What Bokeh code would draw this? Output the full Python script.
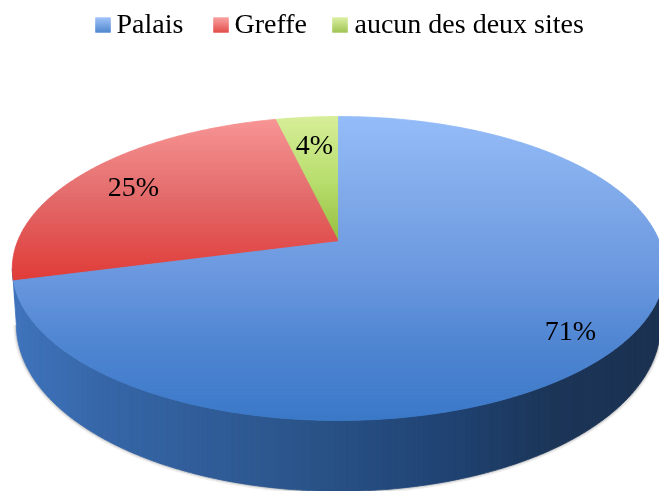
import numpy as np
from bokeh.plotting import figure
from bokeh.models import Range1d
from bokeh.core.properties import value
from bokeh.embed import file_html
from bokeh.resources import INLINE

categories = ["Palais", "Greffe", "aucun des deux sites"]
shares = [70.9, 25.4, 3.7]
labels = ["71%", "25%", "4%"]

FONT = "Liberation Serif"
W, H = 659, 491
CX, CY = 338.0, 241.0      # apex on screen
RX, BY, K = 321.0, 147.2, 0.1776   # perspective circle
RX2, BY2, CY2 = 317.0, 161.0, 295.0  # lower rim of the wall

# gradient stops: (screen y, rgb)
blue_stops = [(116, (148, 188, 249)), (200, (126, 168, 232)), (280, (104, 150, 222)),
              (340, (80, 134, 210)), (420, (58, 120, 200))]
red_stops = [(116, (248, 150, 150)), (200, (226, 104, 104)), (285, (224, 56, 52))]
green_stops = [(116, (214, 238, 152)), (180, (184, 222, 110)), (242, (148, 190, 62))]
wall_stops = [(12, (62, 116, 188)), (100, (54, 102, 168)), (300, (42, 84, 138)),
              (450, (31, 66, 114)), (550, (27, 53, 88)), (659, (26, 48, 80))]
slice_stops = [blue_stops, red_stops, green_stops]


def lerp(stops, v):
    xs = [s[0] for s in stops]
    return "#%02x%02x%02x" % tuple(int(round(np.interp(v, xs, [s[1][i] for s in stops]))) for i in range(3))


def rim(theta, rx=RX, by=BY, cy=CY):
    c, s = np.cos(theta), np.sin(theta)
    d = 1 + K * s
    return CX + rx * c / d, cy - by * s / d


def clip(poly, axis, lo, hi):
    def half(pts, sign, lim):
        out = []
        for i in range(len(pts)):
            a, b = pts[i], pts[(i + 1) % len(pts)]
            da, db = sign * (a[axis] - lim), sign * (b[axis] - lim)
            if da >= 0:
                out.append(a)
            if da * db < 0:
                t = da / (da - db)
                out.append((a[0] + t * (b[0] - a[0]), a[1] + t * (b[1] - a[1])))
        return out
    pts = half(poly, 1, lo)
    return half(pts, -1, hi) if pts else pts


p = figure(width=W, height=H, output_backend="svg", toolbar_location=None,
           x_range=Range1d(0, W), y_range=Range1d(H, 0), min_border=0,
           outline_line_color=None, background_fill_color="white")
p.styles = {"position": "fixed", "left": "0px", "top": "0px"}
p.axis.visible = False
p.grid.visible = False


def bands(poly, axis, stops, start, stop, step):
    xs, ys, cs = [], [], []
    for v in np.arange(start, stop, step):
        piece = clip(poly, axis, v, v + step)
        if len(piece) >= 3:
            xs.append([q[0] for q in piece])
            ys.append([q[1] for q in piece])
            cs.append(lerp(stops, v + step / 2))
    p.patches(xs, ys, fill_color=cs, line_color=cs, line_width=0.8)


# wall: front half between the two rims, from tangent point to tangent point
tangent = np.arcsin(K)
front = np.linspace(np.pi + tangent, 2 * np.pi - tangent, 240)
tx, ty = rim(front)
bx, by = rim(front[::-1], RX2, BY2, CY2)
wall = list(zip(np.r_[tx, bx], np.r_[ty, by]))
sx, sy = rim(front, RX2, BY2, CY2)
for w, a in ((6, 0.10), (3, 0.18)):
    p.line(sx, sy, line_color="#555555", line_width=w, line_alpha=a)
bands(wall, 0, wall_stops, 8, W + 8, 6)

# top face: slices run counter-clockwise from twelve o'clock, smallest first
order = [2, 1, 0]
total = sum(shares)
angle = np.pi / 2
for i in order:
    sweep = 2 * np.pi * shares[i] / total
    th = np.linspace(angle, angle + sweep, max(8, int(shares[i] * 5)))
    xx, yy = rim(th)
    poly = [(CX, CY)] + list(zip(xx, yy))
    bands(poly, 1, slice_stops[i], 112, 424, 3)
    angle += sweep

# data labels
p.text([570, 133, 314], [330, 186, 144], text=labels, text_font=value(FONT),
       text_font_size="28px", text_color="black", text_align="center", text_baseline="middle")

# legend
sq_x = [95, 213, 332]
tx_x = [116, 234, 354]
for i, c in enumerate(categories):
    stops = [(17, slice_stops[i][0][1]), (32, slice_stops[i][-1][1])]
    for v in range(17, 32):
        col = lerp(stops, v + 0.5)
        p.quad(left=sq_x[i], right=sq_x[i] + 15, top=v, bottom=v + 1, fill_color=col, line_color=col, line_width=0.3)
p.text(tx_x, [23, 23, 23], text=categories, text_font=value(FONT), text_font_size="28px",
       text_color="black", text_align="left", text_baseline="middle")

open("out.html", "w").write(file_html(p, INLINE))
